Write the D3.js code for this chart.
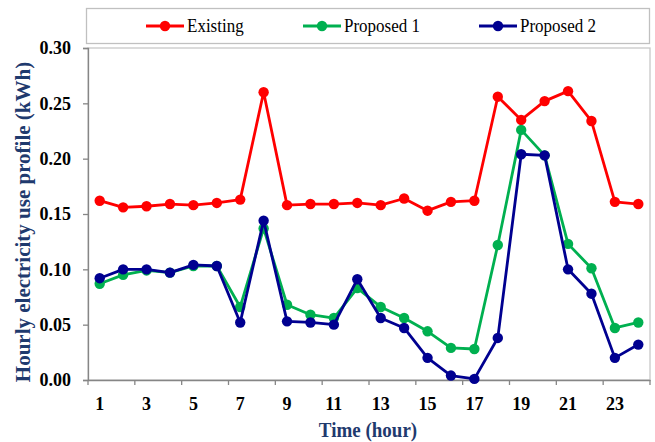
<!DOCTYPE html>
<html>
<head>
<meta charset="utf-8">
<script src="https://cdn.jsdelivr.net/npm/d3@7"></script>
<style>
  html, body { margin: 0; padding: 0; background: #fff; }
  svg { display: block; }
</style>
</head>
<body>
<svg id="chart" width="655" height="442"></svg>
<script>
// Hourly electricity use (kWh) for each hour of the day
const hours = d3.range(1, 25);
const existing = [0.162, 0.156, 0.157, 0.159, 0.158, 0.160, 0.163, 0.260, 0.158, 0.159, 0.159, 0.160,
                  0.158, 0.164, 0.153, 0.161, 0.162, 0.256, 0.235, 0.252, 0.261, 0.234, 0.161, 0.159];
const proposed1 = [0.087, 0.095, 0.099, 0.097, 0.103, 0.103, 0.066, 0.137, 0.068, 0.059, 0.056, 0.083,
                   0.066, 0.056, 0.044, 0.029, 0.028, 0.122, 0.226, 0.203, 0.123, 0.101, 0.047, 0.052];
const proposed2 = [0.092, 0.100, 0.100, 0.097, 0.104, 0.103, 0.052, 0.144, 0.053, 0.052, 0.050, 0.091,
                   0.056, 0.047, 0.020, 0.004, 0.001, 0.038, 0.204, 0.203, 0.100, 0.078, 0.020, 0.032];
const seriesNames = ["Existing", "Proposed 1", "Proposed 2"];
const seriesColors = ["#ff0000", "#00b050", "#000090"];
const yTicks = [0, 0.05, 0.10, 0.15, 0.20, 0.25, 0.30];

const series = [existing, proposed1, proposed2].map((values, i) => ({
  name: seriesNames[i], color: seriesColors[i], values
}));

const svg = d3.select("#chart");
const font = "'Liberation Serif', 'Times New Roman', serif";
const plotL = 88, plotR = 650, plotT = 48, plotB = 380;

const x = d3.scaleBand().domain(hours).range([plotL, plotR]).paddingInner(0).paddingOuter(0);
const y = d3.scaleLinear().domain([0, 0.30]).range([plotB, plotT]);
const cx = h => x(h) + x.bandwidth() / 2;

// plot area frame
svg.append("rect")
  .attr("x", plotL).attr("y", plotT)
  .attr("width", plotR - plotL).attr("height", plotB - plotT)
  .attr("fill", "none").attr("stroke", "#c8c8c8").attr("stroke-width", 1.3);

// y axis
const yAxis = svg.append("g")
  .attr("transform", `translate(${plotL},0)`)
  .call(d3.axisLeft(y).tickValues(yTicks).tickFormat(d3.format(".2f")).tickSize(5).tickPadding(12));
yAxis.select(".domain").attr("stroke", "#868686").attr("stroke-width", 1.3);
yAxis.selectAll(".tick line").attr("stroke", "#868686").attr("stroke-width", 1.3);
yAxis.selectAll(".tick text")
  .attr("font-family", font).attr("font-weight", "bold").attr("font-size", 18).attr("fill", "#000");

// x axis: ticks every two hours on category boundaries, labels on odd hours
const xAxis = svg.append("g")
  .attr("transform", `translate(0,${plotB})`)
  .call(d3.axisBottom(x).tickValues([]).tickSizeOuter(0));
xAxis.select(".domain").attr("stroke", "#868686").attr("stroke-width", 1.3);
const boundaries = d3.range(0, 25, 2);
xAxis.selectAll(".bt").data(boundaries).join("line")
  .attr("class", "bt")
  .attr("x1", d => plotL + d * x.bandwidth()).attr("x2", d => plotL + d * x.bandwidth())
  .attr("y1", 0).attr("y2", 5)
  .attr("stroke", "#868686").attr("stroke-width", 1.3);
xAxis.selectAll(".lbl").data(hours.filter(h => h % 2 === 1)).join("text")
  .attr("class", "lbl")
  .attr("x", d => cx(d)).attr("y", 30)
  .attr("text-anchor", "middle")
  .attr("font-family", font).attr("font-weight", "bold").attr("font-size", 18).attr("fill", "#000")
  .text(d => d);

// axis titles
svg.append("text")
  .attr("transform", `translate(${(plotL + plotR) / 2 - 1},437) scale(1,1.08)`)
  .attr("text-anchor", "middle")
  .attr("font-family", font).attr("font-weight", "bold").attr("font-size", 19).attr("fill", "#1f3a6e")
  .text("Time (hour)");
svg.append("text")
  .attr("transform", `translate(30,222) rotate(-90)`)
  .attr("text-anchor", "middle")
  .attr("font-family", font).attr("font-weight", "bold").attr("font-size", 21).attr("fill", "#1f3a6e")
  .text("Hourly electricity use profile (kWh)");

// series lines and markers
const line = d3.line().x((d, i) => cx(hours[i])).y(d => y(d));
const g = svg.append("g");
series.forEach(s => {
  g.append("path").datum(s.values)
    .attr("d", line).attr("fill", "none")
    .attr("stroke", s.color).attr("stroke-width", 2.8).attr("stroke-linejoin", "round");
  g.selectAll(null).data(s.values).join("circle")
    .attr("cx", (d, i) => cx(hours[i])).attr("cy", d => y(d)).attr("r", 5.2)
    .attr("fill", s.color);
});

// legend
svg.append("rect")
  .attr("x", 86.5).attr("y", 8.5).attr("width", 563).attr("height", 35)
  .attr("fill", "#fff").attr("stroke", "#c0c0c0").attr("stroke-width", 1.3);
const legendX = [146, 303, 479];
const lg = svg.selectAll(".leg").data(series).join("g")
  .attr("class", "leg")
  .attr("transform", (d, i) => `translate(${legendX[i]},26)`);
lg.append("line").attr("x1", 0).attr("x2", 38).attr("y1", 0).attr("y2", 0)
  .attr("stroke", d => d.color).attr("stroke-width", 2.8);
lg.append("circle").attr("cx", 19).attr("cy", 0).attr("r", 5.2).attr("fill", d => d.color);
lg.append("text").attr("transform", "translate(41,6) scale(1,1.08)")
  .attr("font-family", font).attr("font-size", 17).attr("fill", "#000")
  .text(d => d.name);
</script>
</body>
</html>
